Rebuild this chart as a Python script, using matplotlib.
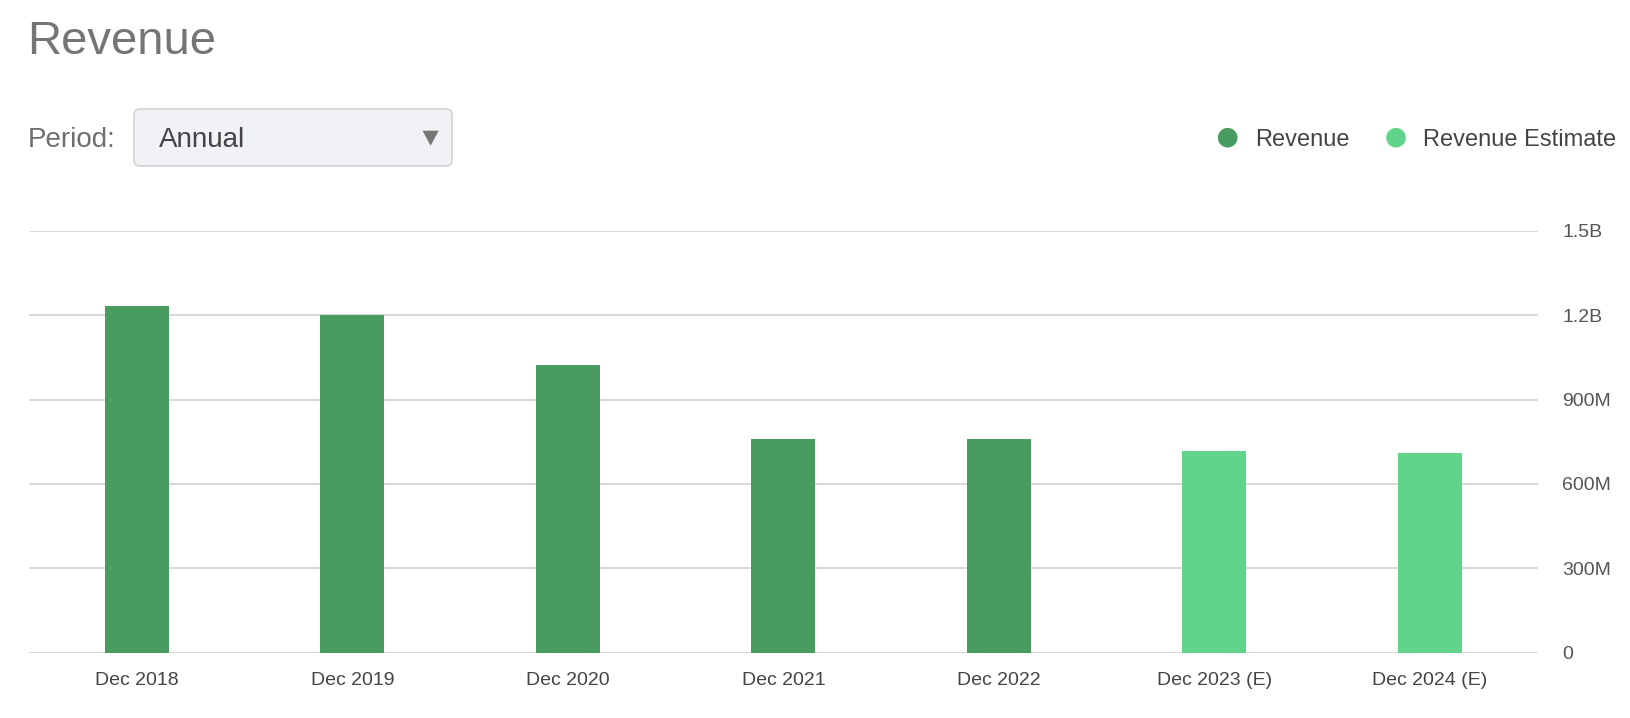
import matplotlib
matplotlib.use("Agg")
import matplotlib.pyplot as plt
from matplotlib.patches import FancyBboxPatch, Circle, Polygon
from matplotlib.ticker import FixedLocator, NullFormatter
from matplotlib.transforms import ScaledTranslation, blended_transform_factory

plt.rcParams['font.family'] = ['Liberation Sans', 'DejaVu Sans']

# ---- data ----
categories = ["Dec 2018", "Dec 2019", "Dec 2020", "Dec 2021", "Dec 2022",
              "Dec 2023 (E)", "Dec 2024 (E)"]
revenue = [1231e6, 1202e6, 1024e6, 760e6, 760e6, 717e6, 710e6]
is_estimate = [False, False, False, False, False, True, True]
series_names = ["Revenue", "Revenue Estimate"]
y_ticks = [0, 300e6, 600e6, 900e6, 1.2e9, 1.5e9]
y_tick_labels = ["0", "300M", "600M", "900M", "1.2B", "1.5B"]
title = "Revenue"
period_label = "Period:"
period_value = "Annual"

COL_ACT = "#489C5F"
COL_EST = "#61D48B"
GRID = "#d9d9d9"

W, H = 1631, 718
fig = plt.figure(figsize=(W / 100, H / 100), dpi=100)

# ---- main chart axes ----
left, right, top, bottom = 29, 1537.7, 230.7, 652.7
ax = fig.add_axes([left / W, 1 - bottom / H, (right - left) / W, (bottom - top) / H])
x = list(range(len(categories)))
colors = [COL_EST if e else COL_ACT for e in is_estimate]
ax.bar(x, revenue, width=0.297, color=colors, zorder=3)
ax.set_xlim(-0.5, len(categories) - 0.5)
ax.set_ylim(0, 1.5e9)
ax.yaxis.set_major_locator(FixedLocator(y_ticks))
ax.yaxis.set_major_formatter(NullFormatter())
ax.grid(axis='y', color=GRID, linewidth=1.45, zorder=0)
ax.set_axisbelow(True)
ax.set_xticks(x)
ax.set_xticklabels(categories)
for s in ax.spines.values():
    s.set_visible(False)
ax.tick_params(axis='x', length=0, pad=14, labelsize=14, labelcolor="#444444")
ax.tick_params(axis='y', length=0, left=False, right=False)

# right-side y labels, positioned from tick values via the axes transform
ytrans = blended_transform_factory(ax.transAxes, ax.transData) + \
    ScaledTranslation(24.5 / 100, -2 / 100, fig.dpi_scale_trans)
for v, lbl in zip(y_ticks, y_tick_labels):
    ax.text(1, v, lbl, transform=ytrans, ha='left', va='center',
            fontsize=14, color="#555555", clip_on=False)

# ---- overlay in pixel coordinates ----
ov = fig.add_axes([0, 0, 1, 1], zorder=5)
ov.set_xlim(0, W)
ov.set_ylim(H, 0)
ov.axis('off')

ov.text(27, 54.3, title, fontsize=34, color="#757575", ha='left', va='baseline')
ov.text(28, 146.7, period_label, fontsize=20, color="#6e6e6e", ha='left', va='baseline')

box = FancyBboxPatch((134, 109), 318, 57, boxstyle="round,pad=0,rounding_size=6",
                     facecolor="#f1f2f6", edgecolor="#d6d6d6", linewidth=1.3)
ov.add_patch(box)
ov.text(159, 147.3, period_value, fontsize=20, color="#444444", ha='left', va='baseline')
ov.add_patch(Polygon([[422.5, 130.7], [438.7, 130.7], [430.6, 145.7]], closed=True,
                     facecolor="#777777", edgecolor="none"))

# legend
leg_x = [1227.7, 1396]
leg_cols = [COL_ACT, COL_EST]
for cx, col, name in zip(leg_x, leg_cols, series_names):
    ov.add_patch(Circle((cx, 137.7), 9.8, facecolor=col, edgecolor='none'))
    ov.text(cx + 27, 145.7, name, fontsize=17, color="#444444", ha='left', va='baseline')

fig.savefig("out.png", dpi=100, facecolor="white")
